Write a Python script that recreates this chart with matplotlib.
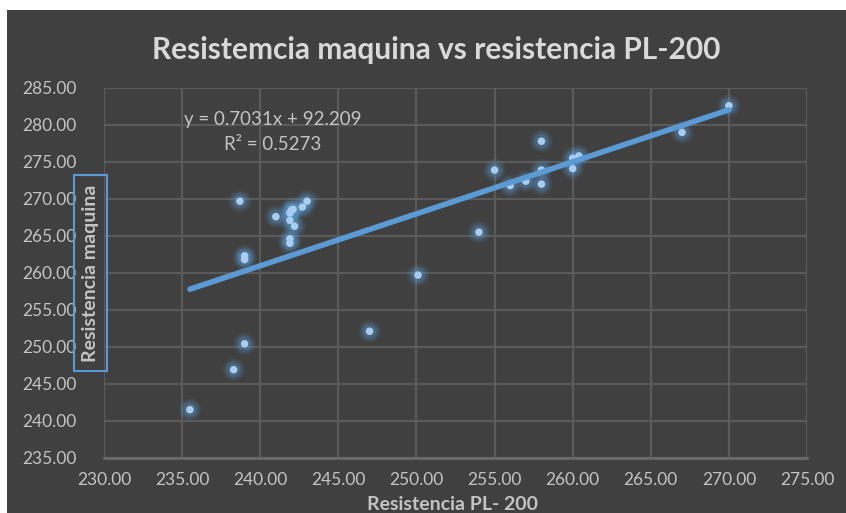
import numpy as np
import matplotlib.pyplot as plt
from matplotlib.patches import Rectangle

plt.rcParams['font.family'] = ['Lato', 'DejaVu Sans']

# Resistencia PL-200 (x) vs resistencia maquina (y)
pl200 = [235.5, 238.3, 239.0, 247.0, 250.1, 254.0, 238.7, 241.0, 242.0, 242.1,
         241.9, 241.9, 242.2, 242.7, 243.0, 241.9, 241.9, 239.0, 239.0, 258.0,
         255.0, 256.0, 257.0, 258.0, 258.0, 260.0, 260.0, 260.4, 267.0, 270.0]
maquina = [241.5, 246.9, 250.4, 252.1, 259.7, 265.5, 269.7, 267.6, 268.5, 268.6,
           268.1, 267.1, 266.3, 268.9, 269.7, 264.6, 264.0, 262.3, 261.8, 277.8,
           273.9, 271.8, 272.4, 273.9, 272.0, 274.1, 275.5, 275.8, 279.0, 282.6]

# trendline from the fitted equation
slope, intercept, r2 = 0.7031, 92.209, 0.5273

xticks = np.arange(230, 276, 5)
yticks = np.arange(235, 286, 5)

bg = '#404040'
grid = '#5a5a5a'
txt = '#c4c4c4'

fig = plt.figure(figsize=(8.46, 5.13), dpi=100)
fig.patch.set_facecolor('white')
fig.patches.append(Rectangle((7 / 846, 0), 1, 1 - 10 / 513, transform=fig.transFigure,
                             facecolor=bg, edgecolor='none', zorder=-10))

ax = fig.add_axes([104 / 846, 1 - 457.7 / 513, (807 - 104) / 846, (457.7 - 88) / 513])
ax.set_facecolor(bg)

x = np.array(pl200)
y = np.array(maquina)

# glowing markers
for s, a in [(260, 0.10), (170, 0.15), (100, 0.25)]:
    ax.scatter(x, y, s=s, color='#5b9bd5', alpha=a, edgecolors='none', zorder=3)
ax.scatter(x, y, s=30, color='#a8cdf0', edgecolors='none', zorder=4)

xt = np.array([x.min(), x.max()])
ax.plot(xt, slope * xt + intercept, color='#5b9bd5', lw=4, solid_capstyle='round', zorder=5)

ax.set_xlim(230, 275)
ax.set_ylim(235, 285)
ax.set_xticks(xticks)
ax.set_yticks(yticks)
ax.set_xticklabels([f'{v:.2f}' for v in xticks])
ax.set_yticklabels([f'{v:.2f}' for v in yticks])
ax.tick_params(colors=txt, labelsize=12.5, length=0, pad=10)
ax.tick_params(axis='y', pad=20)
ax.grid(True, color=grid, lw=1.6)
ax.set_axisbelow(True)
for side in ['top', 'right', 'left']:
    ax.spines[side].set_visible(False)
ax.spines['bottom'].set_color('#6a6a6a')
ax.spines['bottom'].set_linewidth(2)

fig.text(436 / 846, 1 - 50 / 513, 'Resistemcia maquina vs resistencia PL-200', ha='center', va='center',
         color='#d9d9d9', fontsize=21.5, fontweight='bold')
fig.text(452 / 846, 1 - 505 / 513, 'Resistencia PL- 200', ha='center', va='center',
         color=txt, fontsize=14, fontweight='bold')
fig.text(90 / 846, 1 - 273 / 513, 'Resistencia maquina', ha='center', va='center',
         rotation=90, color=txt, fontsize=14, fontweight='bold')
fig.patches.append(Rectangle((74 / 846, 1 - 371 / 513), 33 / 846, 196 / 513,
                             transform=fig.transFigure, fill=False,
                             edgecolor='#5b9bd5', lw=1.5))

fig.text(273 / 846, 1 - 120 / 513, f'y = {slope}x + {intercept}', ha='center', va='center',
         color=txt, fontsize=13.5)
fig.text(273 / 846, 1 - 145 / 513, f'R² = {r2}', ha='center', va='center',
         color=txt, fontsize=13.5)

fig.savefig('out.png', dpi=100, facecolor=fig.get_facecolor())
